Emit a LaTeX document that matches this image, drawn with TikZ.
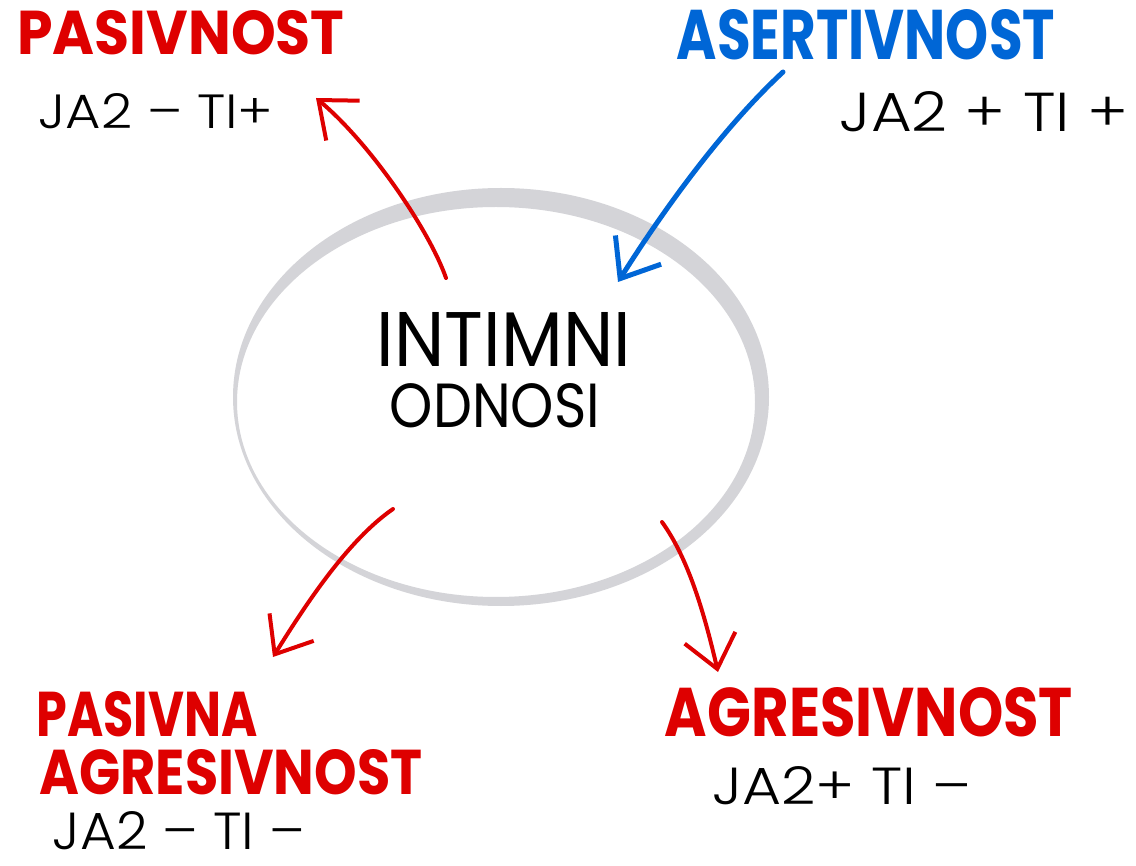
\documentclass[tikz,border=0pt]{standalone}
\usepackage{fontspec}
\usepackage{graphicx}
\setmainfont{Poppins}
\newfontfamily\thinfont{Poppins Light}
\usetikzlibrary{arrows.meta}

\definecolor{inkred}{RGB}{222,0,0}
\definecolor{inkblue}{RGB}{0,102,214}
\definecolor{ringgrey}{RGB}{212,212,216}

% scale a piece of text to an exact box (width, cap height)
\newcommand{\fitto}[3]{\resizebox{#1pt}{#2pt}{#3}}

\begin{document}
\begin{tikzpicture}[x=1pt,y=-1pt,
  label/.style={inner sep=0pt, outer sep=0pt},
  heading/.style={label, font=\bfseries},
  codeline/.style={label, font=\thinfont},
  middle/.style={label, font=\mdseries},
  redarrow/.style={draw=inkred, line width=4pt, line cap=round, line join=round,
    -{Straight Barb[length=32pt, width=52pt, line width=4pt]}},
  bluearrow/.style={draw=inkblue, line width=5pt, line cap=round, line join=round,
    -{Straight Barb[length=34pt, width=54pt, line width=5pt]}}]
\useasboundingbox (0,0) rectangle (1136,866);
\fill[white] (0,0) rectangle (1136,866);

% brush ring: thicker along the top and right
\fill[ringgrey, even odd rule]
  (501,397) ellipse [x radius=268, y radius=209]
  (496,402) ellipse [x radius=259, y radius=195];

% centre words
\node[middle] (intimni) at (504,339) {\fitto{254}{54}{INTIMNI}};
\node[middle] (odnosi)  at (495,406) {\fitto{210}{44}{ODNOSI}};

% four styles of relating
\node[heading, text=inkred]  (pas)   at (181,33)  {\fitto{327}{44}{PASIVNOST}};
\node[codeline]              (pasc)  at (156,111) {\fitto{235}{35}{JA2 – TI+}};

\node[heading, text=inkblue] (ase)   at (866,35)  {\fitto{378}{50}{ASERTIVNOST}};
\node[codeline]              (asec)  at (984,112) {\fitto{288}{40}{JA2 + TI +}};

\node[heading, text=inkred]  (pasag1) at (147,714) {\fitto{221}{45}{PASIVNA}};
\node[heading, text=inkred]  (pasag2) at (231,772) {\fitto{383}{45}{AGRESIVNOST}};
\node[codeline]              (pasagc) at (179,831) {\fitto{252}{38}{JA2 – TI –}};

\node[heading, text=inkred]  (agr)   at (869,712) {\fitto{408}{49}{AGRESIVNOST}};
\node[codeline]              (agrc)  at (842,786) {\fitto{259}{38}{JA2+ TI –}};

% arrow ends
\coordinate (fromTop)   at (446,278);
\coordinate (toPas)     at (316,98);
\coordinate (fromAse)   at (783,72);
\coordinate (intoRing)  at (618,282);
\coordinate (fromLow)   at (393,509);
\coordinate (toPasAg)   at (273,657);
\coordinate (fromRight) at (662,522);
\coordinate (toAgr)     at (718,672);

\draw[redarrow]  (fromTop)   .. controls (430,232) and (372,145) .. (toPas);
\draw[bluearrow] (fromAse)   .. controls (715,135) and (652,228) .. (intoRing);
\draw[redarrow]  (fromLow)   .. controls (348,540) and (306,604) .. (toPasAg);
\draw[redarrow]  (fromRight) .. controls (688,558) and (704,612) .. (toAgr);
\end{tikzpicture}
\end{document}
